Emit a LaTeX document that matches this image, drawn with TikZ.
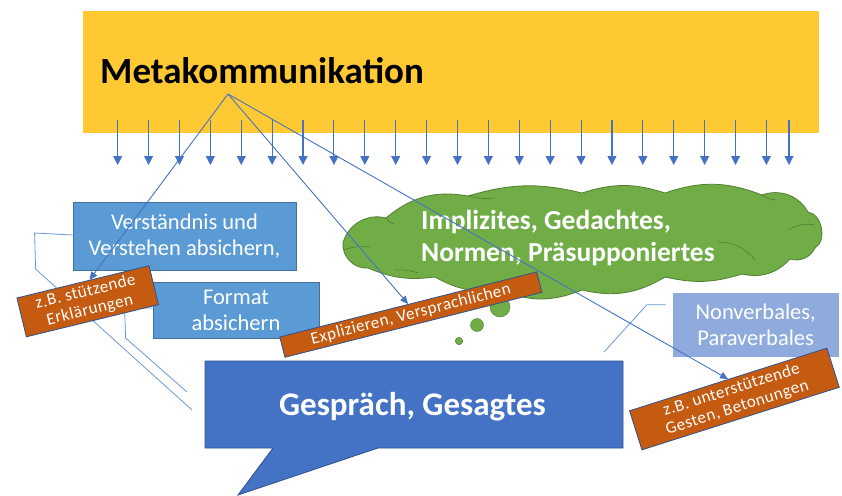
\documentclass[tikz,border=0pt]{standalone}
\usepackage{fontspec}
\setmainfont{Carlito}
\newfontfamily\tagfont[LetterSpace=3]{Carlito}
\usetikzlibrary{arrows.meta,calc}

\definecolor{metagold}{HTML}{FFC933}
\definecolor{linkblue}{HTML}{4472C4}
\definecolor{boxblue}{HTML}{5B9BD5}
\definecolor{boxedge}{HTML}{41719C}
\definecolor{paleblue}{HTML}{8FAADC}
\definecolor{speechblue}{HTML}{4472C4}
\definecolor{speechedge}{HTML}{2F528F}
\definecolor{tagorange}{HTML}{C55A11}
\definecolor{tagedge}{HTML}{2F528F}
\definecolor{cloudgreen}{HTML}{70AD47}
\definecolor{cloudedge}{HTML}{507E32}
\definecolor{leaderblue}{HTML}{6A98D4}

\begin{document}
\begin{tikzpicture}[x=1pt,y=-1pt,
  bluebox/.style={rectangle, draw=boxedge, fill=boxblue, line width=0.8pt,
    text=white, align=center, inner sep=0pt,
    font=\fontsize{22.5}{26}\selectfont},
  tagbox/.style={rectangle, draw=tagedge, fill=tagorange, line width=0.8pt,
    text=white, align=center, inner sep=0pt,
    font=\fontsize{17}{18.5}\tagfont},
  link/.style={draw=linkblue, line width=0.9pt, -{Triangle[width=7pt,length=8pt]}},
  drop/.style={draw=linkblue, line width=1.1pt, -{Triangle[width=9pt,length=9pt]}},
  leader/.style={draw=leaderblue, line width=0.8pt},
  crease/.style={draw=cloudedge, line width=0.6pt},
  bubble/.style={circle, fill=cloudgreen, draw=cloudedge, line width=0.4pt, inner sep=0pt}]
\useasboundingbox (0,0) rectangle (842,495);

% banner
\node[rectangle, fill=metagold, inner sep=0pt, minimum width=736pt,
      minimum height=122pt, anchor=north west] (meta) at (83,11) {};
\node[anchor=base west, inner sep=0pt, font=\bfseries\fontsize{37}{42}\selectfont]
      (metatext) at (100,83) {Metakommunikation};
\coordinate (hub) at (228,94);

% row of downward arrows
\foreach \i in {0,...,21}
  \draw[drop] (117.7+30.89*\i,120) -- ++(0,45);
\draw[drop] (789,120) -- ++(0,45);

% thought cloud
\path[fill=cloudgreen, draw=cloudedge, line width=0.8pt]
  (343,243) to[bend left=45] (386,218)
  to[bend left=25] (468,196)
  to[bend left=15] (582,193)
  to[bend left=18] (665,193)
  to[bend left=20] (762,195)
  to[bend left=40] (808,212)
  to[bend left=70] (815,248)
  to[bend left=40] (790,259)
  to[bend left=30] (742,274)
  to[bend left=15] (665,277)
  to[bend left=22] (582,290)
  to[bend left=22] (500,290)
  to[bend left=18] (435,277)
  to[bend left=15] (368,268)
  to[bend left=50] (343,243) -- cycle;
\draw[crease] (343,250) to[bend left=12] (370,247);
\draw[crease] (395,270) to[bend left=10] (418,273);
\draw[crease] (718,242) to[bend left=25] (755,260);
\draw[crease] (788,230) to[bend left=20] (815,225);
\draw[crease] (762,195) to[bend right=15] (776,200);
\draw[crease] (468,196) to[bend right=10] (495,198);
\draw[crease] (386,218) to[bend right=20] (394,224);
\coordinate (cloud) at (581,241);
\node[anchor=west, align=left, inner sep=0pt, text=white,
      font=\bfseries\fontsize{27.5}{31.5}\selectfont] (cloudtext) at (421,238)
      {Implizites, Gedachtes,\\Normen, Präsupponiertes};
\node[bubble, minimum size=20pt] (bub1) at (500,307) {};
\node[bubble, minimum size=13pt] (bub2) at (477,325) {};
\node[bubble, minimum size=7.5pt] (bub3) at (459,341) {};

% blue boxes
\node[bluebox, minimum width=223pt, minimum height=68pt] (verst) at (184.5,236)
      {Verständnis und\\Verstehen absichern,};
\node[bluebox, minimum width=166pt, minimum height=56pt] (format) at (236,310)
      {Format\\absichern};
\node[bluebox, fill=paleblue, draw=paleblue, minimum width=165pt,
      minimum height=63pt] (nonv) at (755.7,324.7) {Nonverbales,\\Paraverbales};

% callout leaders
\coordinate (lv) at (192,410);
\coordinate (lf) at (187,392);
\coordinate (ln) at (604,352);
\draw[leader] ($(verst.west)+(0,-1)$) -- ++(-38,-2) -- ++(1,36) -- (lv);
\draw[leader] ($(format.west)+(0,-2)$) -- ++(-28,0) -- ++(1,30) -- (lf);
\draw[leader] ($(nonv.north west)+(-7,12)$) -- ++(-19,0) -- (ln);

% speech bubble
\path[fill=speechblue, draw=speechedge, line width=0.8pt]
  (205,361) -- (623,361) -- (623,448) -- (378,448) -- (238,495)
  -- (273,448) -- (205,448) -- cycle;
\node[anchor=base, inner sep=0pt, text=white,
      font=\bfseries\fontsize{33}{40}\selectfont] (gesp) at (412.5,415)
      {Gespräch, Gesagtes};

% orange tags
\node[tagbox, minimum width=136pt, minimum height=40pt, rotate=13.7] (tag1)
      at (87.7,301.3) {z.B. stützende\\Erklärungen};
\node[tagbox, minimum width=265pt, minimum height=21pt, rotate=14.2] (tag2)
      at (410.8,314.6) {Explizieren, Versprachlichen};
\node[tagbox, minimum width=207pt, minimum height=41pt, rotate=17.6] (tag3)
      at (734.4,399) {z.B. unterstützende\\Gesten, Betonungen};

% links from the banner
\draw[link] (hub) -- ($(tag1.north west)!0.55!(tag1.north east)$);
\draw[link] (hub) -- (tag2.north);
\draw[link] (hub) -- (tag3.north);
\end{tikzpicture}
\end{document}
